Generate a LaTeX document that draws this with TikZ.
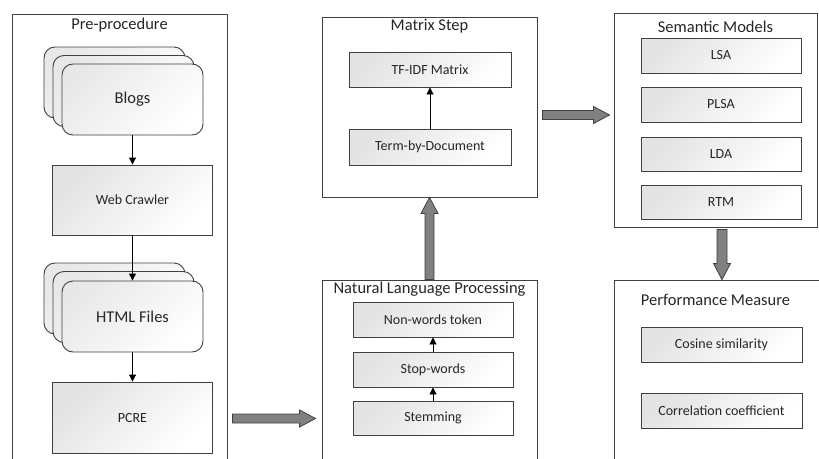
\documentclass[tikz,border=0pt]{standalone}
\usepackage{fontspec}
\setmainfont{Carlito}
\usetikzlibrary{calc,arrows.meta}
\definecolor{edge}{HTML}{404040}
\definecolor{arrfill}{HTML}{808080}
\tikzset{
  x=1pt, y=-1pt,
  container/.style={draw=edge, line width=0.9pt, fill=white, rectangle, inner sep=0pt},
  ttl/.style={font=\fontsize{16.5}{18}\selectfont, anchor=base, text=black!85, inner sep=0pt},
  stepbox/.style={draw=edge, line width=0.9pt, rectangle, inner sep=0pt,
    top color=gray!22, bottom color=white, shading angle=45,
    font=\fontsize{14}{16}\selectfont, text=black!85},
  card/.style={draw=edge, line width=0.9pt, rectangle, rounded corners=11pt, inner sep=0pt,
    minimum width=141pt, minimum height=71pt,
    top color=gray!18, bottom color=white, shading angle=45,
    font=\fontsize{16.5}{18}\selectfont, text=black!85},
  thinarr/.style={draw=black, line width=0.9pt, -{Triangle[length=7pt,width=7pt]}},
  bigarr/.style={draw=edge, line width=0.8pt, fill=arrfill, line join=miter}
}
\newcommand\bigarrowH[2]{\path[bigarr] let \p1=#1, \p2=#2 in
  (\x1,\y1+4.5pt) -- (\x2-16pt,\y1+4.5pt) -- (\x2-16pt,\y1+8.5pt) -- (\x2,\y1)
  -- (\x2-16pt,\y1-8.5pt) -- (\x2-16pt,\y1-4.5pt) -- (\x1,\y1-4.5pt) -- cycle;}
\newcommand\bigarrowUp[2]{\path[bigarr] let \p1=#1, \p2=#2 in
  (\x1+4.5pt,\y1) -- (\x1+4.5pt,\y2-16pt) -- (\x1+8.5pt,\y2-16pt) -- (\x1,\y2)
  -- (\x1-8.5pt,\y2-16pt) -- (\x1-4.5pt,\y2-16pt) -- (\x1-4.5pt,\y1) -- cycle;}
\newcommand\bigarrowDown[2]{\path[bigarr] let \p1=#1, \p2=#2 in
  (\x1+5pt,\y1) -- (\x1+5pt,\y2+16pt) -- (\x1+8.5pt,\y2+16pt) -- (\x1,\y2)
  -- (\x1-8.5pt,\y2+16pt) -- (\x1-5pt,\y2+16pt) -- (\x1-5pt,\y1) -- cycle;}
\begin{document}
\begin{tikzpicture}
\useasboundingbox (0,0) rectangle (819,458);
\clip (0,0) rectangle (819,458);
\fill[white] (0,0) rectangle (819,458);

% containers
\node[container, minimum width=215pt, minimum height=466pt] (pre) at (119.5,247) {};
\node[ttl] at (119.5,29.3) {Pre-procedure};
\node[container, minimum width=215pt, minimum height=180pt] (matrix) at (429.5,107) {};
\node[ttl] at (429.5,30.7) {Matrix Step};
\node[container, minimum width=203pt, minimum height=214pt] (sem) at (715.5,120) {};
\node[ttl] at (715.5,32.7) {Semantic Models};
\node[container, minimum width=215pt, minimum height=200pt] (nlp) at (429.5,380) {};
\node[ttl] at (429.5,293.3) {Natural Language Processing};
\node[container, minimum width=210pt, minimum height=200pt] (perf) at (719,380) {};
\node[ttl] at (715.5,305) {Performance Measure};

% pre-procedure content
\node[card] (blogs3) at (114.5,82.5) {};
\node[card] (blogs2) at (123.5,91) {};
\node[card] (blogs) at (132.5,99.5) {Blogs};
\node[stepbox, minimum width=160pt, minimum height=70pt] (crawler) at (132.5,200) {Web Crawler};
\node[card] (html3) at (114.5,298.5) {};
\node[card] (html2) at (123.5,307) {};
\node[card] (html) at (132.5,316.5) {HTML Files};
\node[stepbox, minimum width=160pt, minimum height=71pt] (pcre) at (132.5,417.5) {PCRE};
\draw[thinarr] (blogs) -- (crawler);
\draw[thinarr] (crawler) -- (html);
\draw[thinarr] (html) -- (pcre);

% matrix step
\node[stepbox, minimum width=162pt, minimum height=35pt] (tfidf) at (430,69.5) {TF-IDF Matrix};
\node[stepbox, minimum width=162pt, minimum height=36pt] (tbd) at (430,147) {Term-by-Document};
\draw[thinarr] (tbd) -- (tfidf);

% NLP
\node[stepbox, minimum width=160pt, minimum height=35pt] (nonw) at (433,319.5) {Non-words token};
\node[stepbox, minimum width=160pt, minimum height=35pt] (stopw) at (433,369.5) {Stop-words};
\node[stepbox, minimum width=160pt, minimum height=34pt] (stem) at (433,418) {Stemming};
\draw[thinarr] (stem) -- (stopw);
\draw[thinarr] (stopw) -- (nonw);

% semantic models
\node[stepbox, minimum width=160pt, minimum height=35pt] (lsa) at (721,55.5) {LSA};
\node[stepbox, minimum width=160pt, minimum height=35pt] (plsa) at (721,104.5) {PLSA};
\node[stepbox, minimum width=160pt, minimum height=34pt] (lda) at (721,154) {LDA};
\node[stepbox, minimum width=160pt, minimum height=34pt] (rtm) at (721,202) {RTM};

% performance
\node[stepbox, minimum width=161pt, minimum height=35pt] (cos) at (721.5,344.5) {Cosine similarity};
\node[stepbox, minimum width=161pt, minimum height=35pt] (corr) at (721.5,410.5) {Correlation coefficient};

% big arrows
\coordinate (a1s) at ($(pre.east |- pcre.east)+(5,1)$);
\coordinate (a1e) at ($(nlp.west |- pcre.east)+(-6,1)$);
\bigarrowH{(a1s)}{(a1e)}
\coordinate (a2s) at ($(matrix.east)+(5,8)$);
\coordinate (a2e) at ($(sem.west |- matrix.east)+(-4,8)$);
\bigarrowH{(a2s)}{(a2e)}
\bigarrowUp{(nlp.north)}{(matrix.south)}
\coordinate (a4s) at ($(sem.south)+(6.5,2)$);
\coordinate (a4e) at (a4s |- perf.north);
\bigarrowDown{(a4s)}{(a4e)}
\end{tikzpicture}
\end{document}
